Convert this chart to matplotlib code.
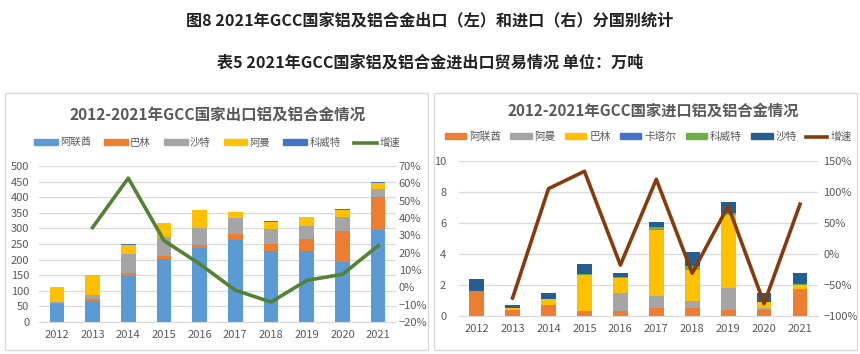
import matplotlib
matplotlib.use("Agg")
import matplotlib.pyplot as plt
from matplotlib.patches import Rectangle, Patch
from matplotlib.lines import Line2D
from matplotlib.ticker import PercentFormatter
import numpy as np

plt.rcParams['font.family'] = ['Noto Sans CJK SC', 'DejaVu Sans']

years = ['2012', '2013', '2014', '2015', '2016', '2017', '2018', '2019', '2020', '2021']

# 出口 (万吨)
exp_names = ['阿联酋', '巴林', '沙特', '阿曼', '科威特']
exp_uae = [57, 67, 146, 203, 238, 263, 226, 226, 192, 296]
exp_bahrain = [5, 8, 11, 7, 10, 20, 24, 41, 100, 104]
exp_saudi = [3, 13, 60, 62, 52, 50, 47, 40, 45, 25]
exp_oman = [48, 64, 31, 44, 58, 19, 25, 28, 23, 22]
exp_kuwait = [0, 0, 2, 2, 1, 2, 2, 2, 2, 3]
exp_growth = [None, 34.5, 63, 27, 13.5, -1.7, -8.5, 4, 7.5, 24]

# 进口 (万吨)
imp_names = ['阿联酋', '阿曼', '巴林', '卡塔尔', '科威特', '沙特']
imp_uae = [1.58, 0.36, 0.73, 0.32, 0.30, 0.50, 0.54, 0.38, 0.38, 1.74]
imp_oman = [0.0, 0.0, 0.0, 0.0, 1.20, 0.80, 0.43, 1.40, 0.12, 0.0]
imp_bahrain = [0.03, 0.15, 0.34, 2.30, 0.96, 4.25, 2.00, 4.70, 0.38, 0.26]
imp_qatar = [0.0, 0.0, 0.0, 0.0, 0.0, 0.0, 0.0, 0.0, 0.0, 0.0]
imp_kuwait = [0.03, 0.0, 0.02, 0.10, 0.04, 0.15, 0.22, 0.15, 0.04, 0.04]
imp_saudi = [0.73, 0.17, 0.36, 0.64, 0.26, 0.37, 0.95, 0.72, 0.58, 0.71]
imp_growth = [None, -71, 105, 133, -18, 120, -31, 77, -80, 80]

W, H = 860, 354
fig = plt.figure(figsize=(W / 100, H / 100), dpi=100)
fig.patch.set_facecolor('white')


def fx(px):
    return px / W


def fy(py):
    return 1 - py / H


fig.text(0.5, fy(20), '图8 2021年GCC国家铝及铝合金出口（左）和进口（右）分国别统计',
         ha='center', va='center', fontsize=11.6, fontweight='bold', color='#222222')
fig.text(0.5, fy(62), '表5 2021年GCC国家铝及铝合金进出口贸易情况 单位：万吨',
         ha='center', va='center', fontsize=11.6, fontweight='bold', color='#222222')

# panel frames
for x0, x1 in [(5, 428), (434, 857)]:
    fig.patches.append(Rectangle((fx(x0), fy(350)), fx(x1 - x0), (350 - 93) / H,
                                 transform=fig.transFigure, fill=False,
                                 edgecolor='#D9D9D9', linewidth=1))

grey_txt = '#595959'
grid_c = '#D9D9D9'


def style_axes(ax, ax2):
    for a in (ax, ax2):
        for s in a.spines.values():
            s.set_visible(False)
        a.tick_params(length=0, labelsize=8, colors=grey_txt)
    ax.yaxis.grid(True, color=grid_c, linewidth=0.9)
    ax.set_axisbelow(True)
    ax.spines['bottom'].set_visible(True)
    ax.spines['bottom'].set_color(grid_c)


def stacked(ax, series, colors, width=0.41):
    x = np.arange(len(years))
    bottom = np.zeros(len(years))
    for vals, c in zip(series, colors):
        v = np.array(vals, dtype=float)
        ax.bar(x, v, width, bottom=bottom, color=c, zorder=2)
        bottom += v
    return x


# ---------- 左：出口 ----------
ax = fig.add_axes([fx(39), fy(322), fx(396 - 39), (322 - 166) / H])
ax2 = ax.twinx()
exp_colors = ['#5B9BD5', '#ED7D31', '#A5A5A5', '#FFC000', '#4472C4']
x = stacked(ax, [exp_uae, exp_bahrain, exp_saudi, exp_oman, exp_kuwait], exp_colors)
ax.set_xlim(-0.5, 9.5)
ax.set_ylim(0, 500)
ax.set_yticks(range(0, 501, 50))
ax.set_xticks(x)
ax.set_xticklabels(years)
gx = [i for i, g in enumerate(exp_growth) if g is not None]
gv = [g for g in exp_growth if g is not None]
ax2.plot(gx, gv, color='#548235', linewidth=2.6, zorder=5)
ax2.set_ylim(-20, 70)
ax2.set_yticks(range(-20, 71, 10))
ax2.yaxis.set_major_formatter(PercentFormatter(decimals=0))
style_axes(ax, ax2)
ax.tick_params(axis='x', pad=6)
ax.tick_params(axis='y', pad=7)
ax2.tick_params(axis='y', pad=2)

fig.text(fx(218), fy(115), '2012-2021年GCC国家出口铝及铝合金情况', ha='center', va='center',
         fontsize=11.2, fontweight='bold', color=grey_txt)
h1 = [Patch(color=c) for c in exp_colors] + [Line2D([], [], color='#548235', linewidth=2.6)]
fig.legend(h1, exp_names + ['增速'], loc='center', bbox_to_anchor=(fx(217), fy(143)),
           ncol=6, frameon=False, fontsize=7.5, labelcolor=grey_txt, handlelength=2.3,
           handleheight=0.5, handletextpad=0.2, columnspacing=1.25, borderpad=0)

# ---------- 右：进口 ----------
bx = fig.add_axes([fx(458.7), fy(316), fx(818 - 458.7), (316 - 160.7) / H])
bx2 = bx.twinx()
imp_colors = ['#ED7D31', '#A5A5A5', '#FFC000', '#4472C4', '#70AD47', '#255E91']
x = stacked(bx, [imp_uae, imp_oman, imp_bahrain, imp_qatar, imp_kuwait, imp_saudi], imp_colors)
bx.set_xlim(-0.5, 9.5)
bx.set_ylim(0, 10)
bx.set_yticks(range(0, 11, 2))
bx.set_xticks(x)
bx.set_xticklabels(years)
gx = [i for i, g in enumerate(imp_growth) if g is not None]
gv = [g for g in imp_growth if g is not None]
bx2.plot(gx, gv, color='#843C0C', linewidth=2.6, zorder=5)
bx2.set_ylim(-100, 150)
bx2.set_yticks(range(-100, 151, 50))
bx2.yaxis.set_major_formatter(PercentFormatter(decimals=0))
style_axes(bx, bx2)
bx.tick_params(axis='x', pad=6)
bx.tick_params(axis='y', pad=9)
bx2.tick_params(axis='y', pad=4)

fig.text(fx(653), fy(111), '2012-2021年GCC国家进口铝及铝合金情况', ha='center', va='center',
         fontsize=11, fontweight='bold', color=grey_txt)
h2 = [Patch(color=c) for c in imp_colors] + [Line2D([], [], color='#843C0C', linewidth=2.6)]
fig.legend(h2, imp_names + ['增速'], loc='center', bbox_to_anchor=(fx(648), fy(137)),
           ncol=7, frameon=False, fontsize=7.7, labelcolor=grey_txt, handlelength=2.0,
           handleheight=0.5, handletextpad=0.25, columnspacing=0.9, borderpad=0)

fig.savefig('out.png', dpi=100, facecolor='white')
